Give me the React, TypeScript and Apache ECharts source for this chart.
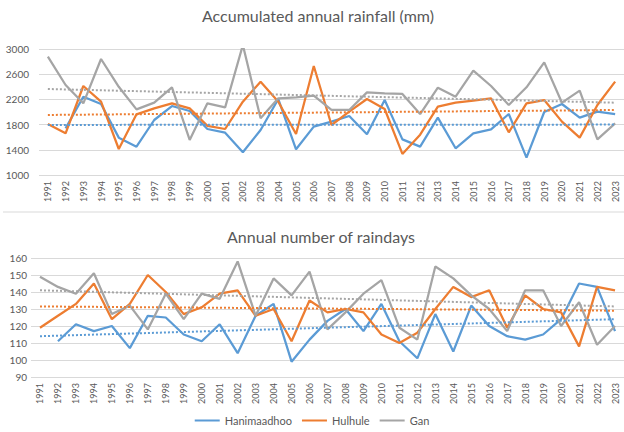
import React, { useEffect, useRef } from "react";
import * as echarts from "echarts";

const years = [
  "1991","1992","1993","1994","1995","1996","1997","1998","1999","2000",
  "2001","2002","2003","2004","2005","2006","2007","2008","2009","2010",
  "2011","2012","2013","2014","2015","2016","2017","2018","2019","2020",
  "2021","2022","2023",
];

// Accumulated annual rainfall (mm)
const rainHanimaadhoo = [
  null, 1740, 2243, 2127, 1593, 1450, 1873, 2095, 2016, 1730,
  1672, 1360, 1714, 2206, 1408, 1767, 1847, 1937, 1646, 2190,
  1566, 1450, 1910, 1424, 1662, 1725, 1968, 1276, 2000, 2127,
  1910, 2005, 1968,
];
const rainHulhule = [
  1810, 1662, 2413, 2164, 1413, 1963, 2058, 2138, 2058, 1780,
  1730, 2164, 2482, 2164, 1651, 2730, 1794, 2005, 2206, 2048,
  1334, 1640, 2085, 2148, 2180, 2217, 1677, 2138, 2190, 1847,
  1593, 2111, 2482,
];
const rainGan = [
  2878, 2429, 2138, 2841, 2400, 2042, 2148, 2392, 1556, 2138,
  2074, 3063, 1900, 2217, 2233, 2259, 2032, 2032, 2312, 2296,
  2286, 1968, 2386, 2243, 2656, 2413, 2111, 2392, 2788, 2148,
  2339, 1566, 1820,
];
// trend line end points [1991, 2023]
const rainTrendHanimaadhoo = [1795, 1800];
const rainTrendHulhule = [1953, 2032];
const rainTrendGan = [2365, 2148];

// Annual number of raindays
const daysHanimaadhoo = [
  null, 111, 121, 117, 120, 107, 126, 125, 115, 111,
  121, 104, 126, 133, 99, 112, 123, 130, 117, 133,
  111, 101, 127, 105, 132, 120, 114, 112, 115, 124,
  145, 143, 117,
];
const daysHulhule = [
  119, 126, 133, 145, 124, 133, 150, 140, 127, 131,
  139, 141, 126, 130, 111, 135, 128, 130, 128, 115,
  110, 116, 130, 143, 137, 141, 119, 138, 130, 128,
  108, 143, 141,
];
const daysGan = [
  149, 143, 139, 151, 127, 132, 118, 139, 124, 139,
  136, 158, 126, 148, 138, 152, 118, 128, 139, 147,
  119, 112, 155, 148, 138, 130, 117, 141, 141, 120,
  134, 109, 120,
];
const daysTrendHanimaadhoo = [114, 124];
const daysTrendHulhule = [131.5, 129];
const daysTrendGan = [141, 131.5];

const names = ["Hanimaadhoo", "Hulhule", "Gan"];
const colors = ["#5B9BD5", "#ED7D31", "#A5A5A5"];
const FONT = "Lato";
const TXT = "#595959";

function trendData(ends: number[]) {
  const arr: (number | null)[] = years.map(() => null);
  arr[0] = ends[0];
  arr[arr.length - 1] = ends[1];
  return arr;
}

export default function App() {
  const ref = useRef<HTMLDivElement>(null);
  useEffect(() => {
    if (!ref.current) return;
    const chart = echarts.init(ref.current, null, { renderer: "svg" });

    const xAxisBase = (gridIndex: number) => ({
      type: "category",
      gridIndex,
      data: years,
      boundaryGap: true,
      axisLine: { show: false },
      axisTick: { show: false },
      axisLabel: {
        rotate: 90,
        interval: 0,
        color: TXT,
        fontSize: 9,
        fontFamily: FONT,
        margin: 6,
      },
    });
    const yAxisBase = (gridIndex: number, min: number, max: number, interval: number, margin: number) => ({
      type: "value",
      gridIndex,
      min,
      max,
      interval,
      axisLine: { show: false },
      axisTick: { show: false },
      splitLine: { lineStyle: { color: "#D9D9D9", width: 1 } },
      axisLabel: {
        color: TXT,
        fontSize: 10,
        fontFamily: FONT,
        margin,
        formatter: (v: number) => String(v),
      },
    });

    const lineSeries = (name: string, data: (number | null)[], i: number, idx: number) => ({
      name,
      type: "line",
      xAxisIndex: idx,
      yAxisIndex: idx,
      data,
      showSymbol: false,
      symbol: "none",
      connectNulls: false,
      lineStyle: { color: colors[i], width: 2.25 },
      itemStyle: { color: colors[i] },
      z: 2 + i,
    });
    const trendSeries = (name: string, ends: number[], i: number, idx: number) => ({
      name: name + " trend",
      type: "line",
      xAxisIndex: idx,
      yAxisIndex: idx,
      data: trendData(ends),
      showSymbol: false,
      symbol: "none",
      connectNulls: true,
      lineStyle: { color: colors[i], width: 2, type: [2, 2] },
      itemStyle: { color: colors[i] },
      z: 6,
    });

    chart.setOption({
      animation: false,
      backgroundColor: "#FFFFFF",
      title: [
        {
          text: "Accumulated annual rainfall (mm)",
          left: 313,
          textAlign: "center",
          top: 2,
          textStyle: { color: TXT, fontSize: 16, fontWeight: "normal", fontFamily: FONT },
        },
        {
          text: "Annual number of raindays",
          left: 316,
          textAlign: "center",
          top: 223,
          textStyle: { color: TXT, fontSize: 16, fontWeight: "normal", fontFamily: FONT },
        },
      ],
      legend: {
        data: names,
        bottom: 1,
        left: "center",
        itemWidth: 25,
        itemHeight: 8,
        itemGap: 10,
        icon: "path://M0,0 L25,0 L25,2 L0,2 Z",
        textStyle: { color: TXT, fontSize: 11, fontFamily: FONT },
      },
      grid: [
        { left: 39, right: 0, top: 49, height: 126 },
        { left: 31, right: 0, top: 258, height: 119 },
      ],
      xAxis: [xAxisBase(0), xAxisBase(1)],
      yAxis: [yAxisBase(0, 1000, 3000, 400, 10), yAxisBase(1, 90, 160, 10, 4)],
      graphic: [
        {
          type: "line",
          shape: { x1: 3, y1: 212, x2: 624, y2: 212 },
          style: { stroke: "#D9D9D9", lineWidth: 1 },
        },
      ],
      series: [
        lineSeries(names[0], rainHanimaadhoo, 0, 0),
        lineSeries(names[1], rainHulhule, 1, 0),
        lineSeries(names[2], rainGan, 2, 0),
        trendSeries(names[0], rainTrendHanimaadhoo, 0, 0),
        trendSeries(names[1], rainTrendHulhule, 1, 0),
        trendSeries(names[2], rainTrendGan, 2, 0),
        lineSeries(names[0], daysHanimaadhoo, 0, 1),
        lineSeries(names[1], daysHulhule, 1, 1),
        lineSeries(names[2], daysGan, 2, 1),
        trendSeries(names[0], daysTrendHanimaadhoo, 0, 1),
        trendSeries(names[1], daysTrendHulhule, 1, 1),
        trendSeries(names[2], daysTrendGan, 2, 1),
      ],
    });
    return () => chart.dispose();
  }, []);
  return (
    <div
      ref={ref}
      style={{ position: "fixed", left: 0, top: 0, width: 624, height: 432 }}
    />
  );
}
